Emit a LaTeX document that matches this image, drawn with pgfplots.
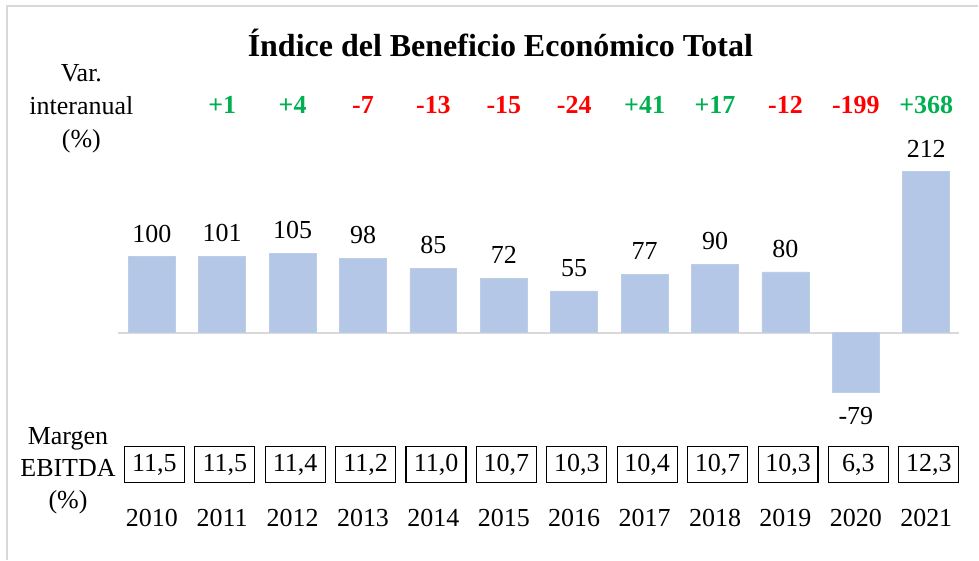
\documentclass[border=0pt]{standalone}
\usepackage{pgfplots}
\pgfplotsset{compat=1.18}
\usepackage{fontspec}
\setmainfont{Liberation Serif}
\definecolor{barblue}{HTML}{B4C7E7}
\definecolor{posgreen}{HTML}{00B050}
\definecolor{negred}{HTML}{FF0000}
\definecolor{framegray}{HTML}{D9D9D9}
\begin{document}
\begin{tikzpicture}
\begin{axis}[
 width=489.5pt,height=280pt,scale only axis,
 xmin=-2.156,xmax=11.738,ymin=-298.7,ymax=438.2,
 axis lines=none,clip=false,
 /pgf/number format/assume math mode=true,
 nodes near coords style={font=\fontsize{13}{15}\selectfont}]
% keep the full canvas in the bounding box
\path (rel axis cs:0,0) rectangle (rel axis cs:1,1);
% frame (top and left edges visible)
\draw[framegray,line width=0.8pt] (rel axis cs:0.0072,0) -- (rel axis cs:0.0072,0.989) -- (rel axis cs:1,0.989);
% zero line
\addplot[framegray,line width=1pt] coordinates {(-0.483,0) (11.47,0)};
% index bars
\addplot[ybar,bar width=23.5pt,bar shift=0pt,fill=barblue,draw=barblue!90!white,
 nodes near coords,
 every node near coord/.append style={inner xsep=0pt,inner ysep=7pt,text=black}]
 coordinates {(0,100) (1,101) (2,105) (3,98) (4,85) (5,72) (6,55) (7,77) (8,90) (9,80) (10,-79) (11,212)};
% year-on-year change, positive
\addplot[draw=none,mark=none,nodes near coords,point meta=explicit symbolic,
 every node near coord/.append style={anchor=center,text=posgreen,font=\fontsize{13}{15}\selectfont\bfseries}]
 table[meta=lab] {
x y lab
1 300 +1
2 300 +4
7 300 +41
8 300 +17
11 300 +368
};
% year-on-year change, negative
\addplot[draw=none,mark=none,nodes near coords,point meta=explicit symbolic,
 every node near coord/.append style={anchor=center,text=negred,font=\fontsize{13}{15}\selectfont\bfseries}]
 table[meta=lab] {
x y lab
3 300 -7
4 300 -13
5 300 -15
6 300 -24
9 300 -12
10 300 -199
};
% EBITDA margin boxes
\addplot[draw=none,mark=none,nodes near coords,point meta=explicit symbolic,
 every node near coord/.append style={anchor=center,draw=black,line width=0.55pt,xshift=1.3pt,
  minimum width=30pt,minimum height=18pt,inner sep=0pt,text=black}]
 table[meta=lab] {
x y lab
0 -173.7 {11,5}
1 -173.7 {11,5}
2 -173.7 {11,4}
3 -173.7 {11,2}
4 -173.7 {11,0}
5 -173.7 {10,7}
6 -173.7 {10,3}
7 -173.7 {10,4}
8 -173.7 {10,7}
9 -173.7 {10,3}
10 -173.7 {6,3}
11 -173.7 {12,3}
};
% years
\addplot[draw=none,mark=none,nodes near coords,point meta=explicit symbolic,
 every node near coord/.append style={anchor=center,text=black}]
 table[meta=lab] {
x y lab
0 -243.4 2010
1 -243.4 2011
2 -243.4 2012
3 -243.4 2013
4 -243.4 2014
5 -243.4 2015
6 -243.4 2016
7 -243.4 2017
8 -243.4 2018
9 -243.4 2019
10 -243.4 2020
11 -243.4 2021
};
\node[font=\fontsize{16}{19}\selectfont\bfseries] at (axis cs:4.95,381) {Índice del Beneficio Económico Total};
\node[align=center,font=\fontsize{13}{16.5}\selectfont] at (axis cs:-1.0,295) {Var.\\interanual\\(\%)};
\node[align=center,font=\fontsize{13}{16}\selectfont] at (axis cs:-1.19,-181.5) {Margen\\EBITDA\\(\%)};
\end{axis}
\end{tikzpicture}
\end{document}
